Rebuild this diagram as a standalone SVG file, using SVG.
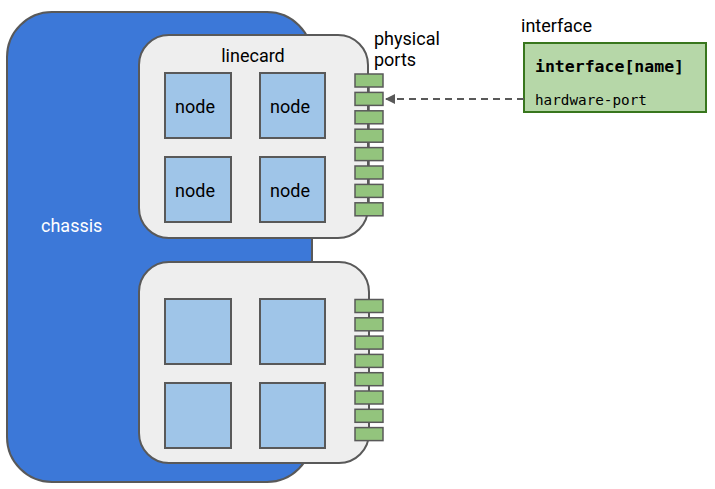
<svg xmlns="http://www.w3.org/2000/svg" width="715" height="489" viewBox="0 0 715 489">
<defs>
<style>
.t{font-family:Roboto,"Liberation Sans",sans-serif;font-size:18px;fill:#000}
.lc{fill:#eeeeee;stroke:#595959;stroke-width:2}
.nd{fill:#9fc5e8;stroke:#595959;stroke-width:2}
.pt{fill:#93c47d;stroke:#595959;stroke-width:1.5}
.mono{font-family:"DejaVu Sans Mono","Liberation Mono",monospace;fill:#000}
</style>
<marker id="ah" viewBox="0 0 10 10" refX="9" refY="5" markerWidth="5" markerHeight="5" orient="auto">
<path d="M0,0 L10,5 L0,10 z" fill="#595959"/>
</marker>
</defs>
<g id="chassis">
<rect x="7" y="12" width="305" height="470" rx="45" fill="#3c78d8" stroke="#595959" stroke-width="2"/>
<text class="t" x="41" y="232" style="fill:#fff">chassis</text>
</g>
<g id="linecard1">
<rect class="lc" x="139" y="35" width="229" height="203" rx="30"/>
<text class="t" x="253" y="62" text-anchor="middle">linecard</text>
</g>
<g id="linecard2">
<rect class="lc" x="139" y="262" width="230" height="201" rx="30"/>
</g>
<g id="node1"><rect class="nd" x="165" y="73" width="66" height="65"/><text class="t" x="195" y="113" text-anchor="middle">node</text></g>
<g id="node2"><rect class="nd" x="260" y="73" width="65" height="65"/><text class="t" x="290" y="113" text-anchor="middle">node</text></g>
<g id="node3"><rect class="nd" x="165" y="157" width="66" height="65"/><text class="t" x="195" y="197" text-anchor="middle">node</text></g>
<g id="node4"><rect class="nd" x="260" y="157" width="65" height="65"/><text class="t" x="290" y="197" text-anchor="middle">node</text></g>
<g id="node5"><rect class="nd" x="165" y="299" width="66" height="65"/></g>
<g id="node6"><rect class="nd" x="260" y="299" width="65" height="65"/></g>
<g id="node7"><rect class="nd" x="165" y="383" width="66" height="65"/></g>
<g id="node8"><rect class="nd" x="260" y="383" width="65" height="65"/></g>
<g id="ports1">
<line x1="369" y1="80" x2="369" y2="209" stroke="#595959" stroke-width="1.5"/>
<rect class="pt" x="355" y="74" width="28" height="13"/>
<rect class="pt" x="355" y="92.4" width="28" height="13"/>
<rect class="pt" x="355" y="110.8" width="28" height="13"/>
<rect class="pt" x="355" y="129.2" width="28" height="13"/>
<rect class="pt" x="355" y="147.6" width="28" height="13"/>
<rect class="pt" x="355" y="166" width="28" height="13"/>
<rect class="pt" x="355" y="184.4" width="28" height="13"/>
<rect class="pt" x="355" y="202.8" width="28" height="13"/>
<text class="t" x="374" y="45">physical</text>
<text class="t" x="374" y="66">ports</text>
</g>
<g id="ports2">
<line x1="369" y1="305" x2="369" y2="434" stroke="#595959" stroke-width="1.5"/>
<rect class="pt" x="355" y="299.5" width="28" height="13"/>
<rect class="pt" x="355" y="317.8" width="28" height="13"/>
<rect class="pt" x="355" y="336.1" width="28" height="13"/>
<rect class="pt" x="355" y="354.4" width="28" height="13"/>
<rect class="pt" x="355" y="372.7" width="28" height="13"/>
<rect class="pt" x="355" y="391" width="28" height="13"/>
<rect class="pt" x="355" y="409.3" width="28" height="13"/>
<rect class="pt" x="355" y="427.6" width="28" height="13"/>
</g>
<g id="interface">
<text class="t" x="521" y="32">interface</text>
<rect x="524" y="43" width="182" height="69" fill="#b6d7a8" stroke="#38761d" stroke-width="2"/>
<text class="mono" x="535" y="72" font-size="16.5" font-weight="bold">interface[name]</text>
<text class="mono" x="535" y="105" font-size="14.3">hardware-port</text>
</g>
<g id="connectors">
<line x1="524" y1="99" x2="386" y2="99" stroke="#595959" stroke-width="2" stroke-dasharray="7,5" marker-end="url(#ah)"/>
</g>
</svg>
